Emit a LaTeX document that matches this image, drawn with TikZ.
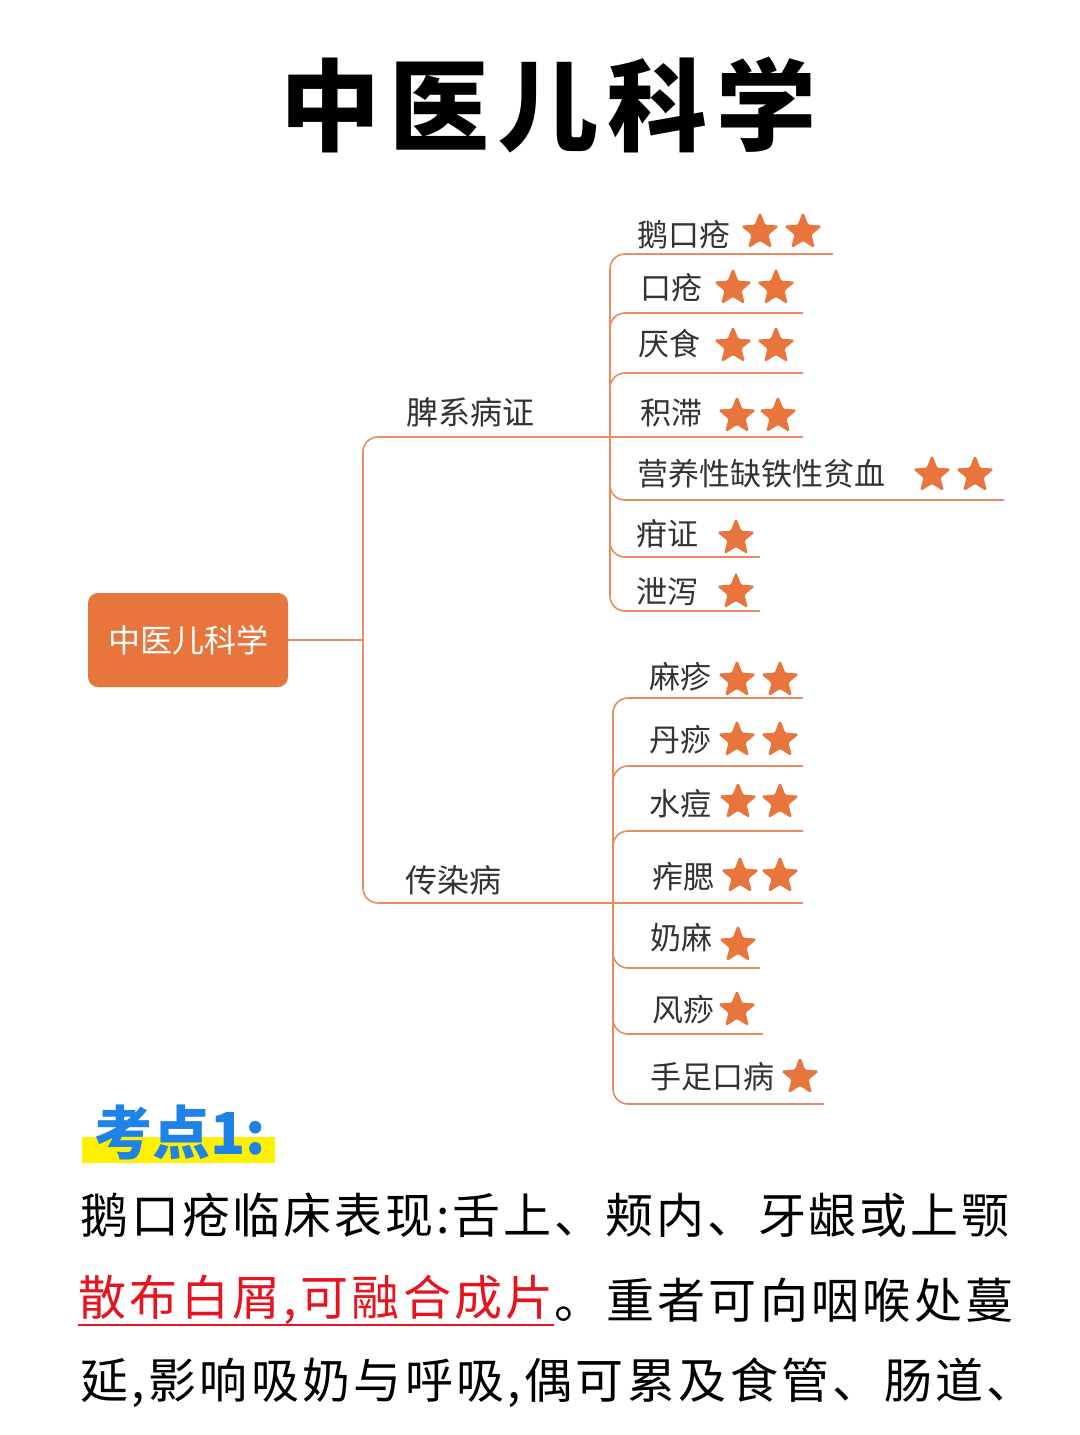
\documentclass[tikz,border=0pt]{standalone}
\usepackage{fontspec}
\setmainfont{Noto Sans CJK SC}
\newfontfamily\titlefont[LetterSpace=9]{Noto Sans CJK SC}
\newfontfamily\bodyfont[LetterSpace=6]{Noto Sans CJK SC}
\newfontfamily\bodywidefont[LetterSpace=7]{Noto Sans CJK SC}
\usepackage{xcolor}
\usepackage{tikz}
\usetikzlibrary{shapes.geometric,positioning}

\definecolor{rootorange}{RGB}{232,118,60}
\definecolor{branchline}{RGB}{233,140,95}
\definecolor{labelgray}{RGB}{51,51,51}
\definecolor{keyblue}{RGB}{30,130,230}
\definecolor{markyellow}{RGB}{255,240,0}
\definecolor{notered}{RGB}{230,20,30}

\tikzset{
  branch/.style={draw=branchline, line width=0.8pt, rounded corners=7.5pt},
  rootbox/.style={fill=rootorange, rounded corners=5pt, minimum width=100pt,
    minimum height=47pt, text=white, font=\fontsize{16}{16}\selectfont},
  toplabel/.style={text=labelgray, inner sep=0pt, font=\fontsize{16}{16}\selectfont},
  leaf/.style={anchor=west, text=labelgray, inner sep=0pt, font=\fontsize{15.5}{16}\selectfont},
  starmark/.style={star, star points=5, star point ratio=2.3, fill=rootorange,
    draw=rootorange, line width=0.6pt, minimum size=19pt, inner sep=0pt, rounded corners=0.8pt},
  bodyline/.style={anchor=west, inner sep=0pt, font=\bodyfont\fontsize{24}{24}\selectfont},
  bodywide/.style={anchor=west, inner sep=0pt, font=\bodywidefont\fontsize{24}{24}\selectfont}
}

\begin{document}
\begin{tikzpicture}[x=0.5pt,y=-0.5pt]
  \useasboundingbox (0,0) rectangle (1080,1435);
  \fill[white] (0,0) rectangle (1080,1435);

  % Title
  \node (title) at (548,105) {\titlefont\bfseries\fontsize{50}{50}\selectfont 中医儿科学};

  % Root and first level
  \node[rootbox] (root) at (188,640) {中医儿科学};
  \coordinate (hub) at (363,640);
  \coordinate (spj) at (610,437);
  \coordinate (inj) at (613,903);
  \draw[branch] (root.east) -- (hub);
  \draw[branch] (hub) |- (spj);
  \draw[branch] (hub) |- (inj);
  \node[toplabel] (spl) at (470,412) {脾系病证};
  \node[toplabel] (inl) at (453,880) {传染病};

  % Spleen branch
  \node[leaf] (p1) at (637,235) {鹅口疮};
  \node[leaf] (p2) at (640,288) {口疮};
  \node[leaf] (p3) at (638,344) {厌食};
  \node[leaf] (p4) at (640,413) {积滞};
  \node[leaf] (p5) at (637,474) {营养性缺铁性贫血};
  \node[leaf] (p6) at (636,534) {疳证};
  \node[leaf] (p7) at (636,592) {泄泻};
  \coordinate (p1e) at (833,254);
  \coordinate (p2e) at (803,313);
  \coordinate (p3e) at (803,373);
  \coordinate (p4e) at (803,437);
  \coordinate (p5e) at (1004,500);
  \coordinate (p6e) at (760,557);
  \coordinate (p7e) at (760,611);
  \draw[branch] (spj) |- (p1e);
  \draw[branch] (spj) |- (p2e);
  \draw[branch] (spj) |- (p3e);
  \draw[branch] (spj) -- (p4e);
  \draw[branch] (spj) |- (p5e);
  \draw[branch] (spj) |- (p6e);
  \draw[branch] (spj) |- (p7e);
  \node[starmark] (p1s1) at (760,232) {};
  \node[starmark] (p1s2) at (803,232) {};
  \node[starmark] (p2s1) at (733,288) {};
  \node[starmark] (p2s2) at (776,288) {};
  \node[starmark] (p3s1) at (733,346) {};
  \node[starmark] (p3s2) at (776,346) {};
  \node[starmark] (p4s1) at (737,416) {};
  \node[starmark] (p4s2) at (778,416) {};
  \node[starmark] (p5s1) at (932,475) {};
  \node[starmark] (p5s2) at (975,475) {};
  \node[starmark] (p6s1) at (736,538) {};
  \node[starmark] (p7s1) at (736,592) {};

  % Infectious branch
  \node[leaf] (i1) at (649,677) {麻疹};
  \node[leaf] (i2) at (649,740) {丹痧};
  \node[leaf] (i3) at (649,804) {水痘};
  \node[leaf] (i4) at (652,877) {痄腮};
  \node[leaf] (i5) at (650,938) {奶麻};
  \node[leaf] (i6) at (652,1010) {风痧};
  \node[leaf] (i7) at (650,1077) {手足口病};
  \coordinate (i1e) at (803,698);
  \coordinate (i2e) at (803,766);
  \coordinate (i3e) at (803,831);
  \coordinate (i4e) at (803,903);
  \coordinate (i5e) at (760,968);
  \coordinate (i6e) at (763,1034);
  \coordinate (i7e) at (824,1104);
  \draw[branch] (inj) |- (i1e);
  \draw[branch] (inj) |- (i2e);
  \draw[branch] (inj) |- (i3e);
  \draw[branch] (inj) -- (i4e);
  \draw[branch] (inj) |- (i5e);
  \draw[branch] (inj) |- (i6e);
  \draw[branch] (inj) |- (i7e);
  \node[starmark] (i1s1) at (737,680) {};
  \node[starmark] (i1s2) at (780,680) {};
  \node[starmark] (i2s1) at (737,740) {};
  \node[starmark] (i2s2) at (780,740) {};
  \node[starmark] (i3s1) at (738,802) {};
  \node[starmark] (i3s2) at (780,802) {};
  \node[starmark] (i4s1) at (740,876) {};
  \node[starmark] (i4s2) at (780,876) {};
  \node[starmark] (i5s1) at (738,945) {};
  \node[starmark] (i6s1) at (737,1010) {};
  \node[starmark] (i7s1) at (800,1077) {};

  % Key point
  \fill[markyellow] (82,1137) rectangle (275,1163);
  \node[anchor=west, inner sep=0pt, text=keyblue] (key) at (94,1132)
    {\bfseries\fontsize{29}{29}\selectfont 考点1:};
  \node[bodyline] (b1) at (80,1215) {鹅口疮临床表现:舌上、颊内、牙龈或上颚};
  \node[bodywide, text=notered] (b2a) at (78,1300) {散布白屑,可融合成片};
  \node[bodywide, right=0pt of b2a] (b2b) {。重者可向咽喉处蔓};
  \node[bodywide] (b3) at (80,1383) {延,影响吸奶与呼吸,偶可累及食管、肠道、};
  \draw[notered, line width=1pt] (b2a.south west) -- (b2a.south east);
\end{tikzpicture}
\end{document}
